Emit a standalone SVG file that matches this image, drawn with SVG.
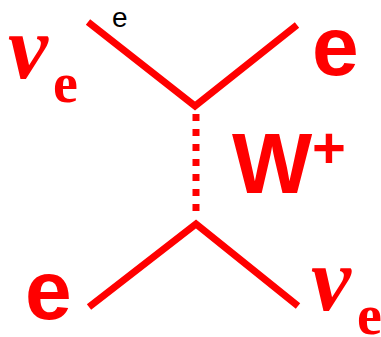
<svg xmlns="http://www.w3.org/2000/svg" width="381" height="337" viewBox="0 0 381 337">
<style>
.line{stroke:#ff0000;stroke-width:7;fill:none}
.w{stroke:#ff0000;stroke-width:7;fill:none;stroke-dasharray:7 8}
.nu{font-family:"Liberation Serif",serif;font-weight:bold;font-style:italic;fill:#ff0000}
.sub{font-family:"Liberation Serif",serif;font-weight:bold;fill:#ff0000}
.sans{font-family:"Liberation Sans",Arial,sans-serif;font-weight:bold;fill:#ff0000}
</style>
<rect width="381" height="337" fill="#fff"/>
<g id="connectors">
<polyline class="line" points="88,22 195,106 297,25"/>
<polyline class="line" points="89,307 196,224 298,306"/>
<line class="w" x1="196" y1="114" x2="196" y2="216"/>
</g>
<g id="nu-e-top">
<text class="nu" x="8" y="78" font-size="90">ν</text>
<text class="sub" x="53" y="102" font-size="56">e</text>
</g>
<g id="label-e-small">
<text x="112" y="27" font-family="Liberation Sans,Arial,sans-serif" font-size="28" fill="#000">e</text>
</g>
<g id="e-top-right">
<text class="sans" x="312" y="75" font-size="84">e</text>
</g>
<g id="W">
<text class="sans" x="232" y="193" font-size="85">W</text>
<text class="sans" x="312" y="168" font-size="58">+</text>
</g>
<g id="e-bottom-left">
<text class="sans" x="25" y="319" font-size="84">e</text>
</g>
<g id="nu-e-bottom">
<text class="nu" x="311" y="310" font-size="90">ν</text>
<text class="sub" x="357" y="334" font-size="56">e</text>
</g>
</svg>
